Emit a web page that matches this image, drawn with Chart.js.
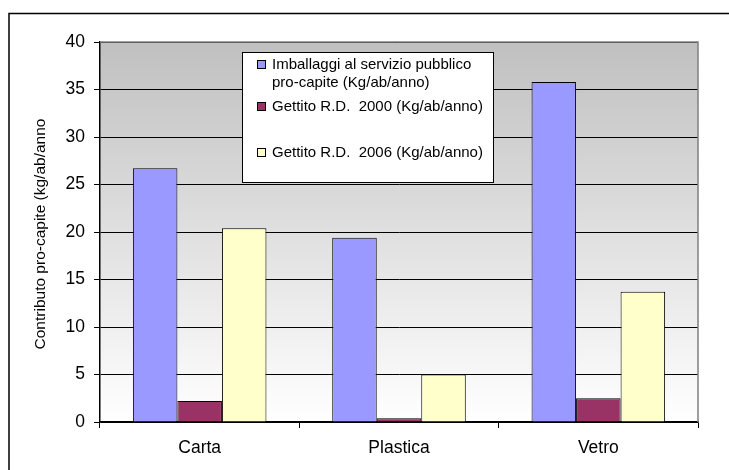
<!DOCTYPE html>
<html>
<head>
<meta charset="utf-8">
<script src="https://cdn.jsdelivr.net/npm/chart.js@4/dist/chart.umd.min.js"></script>
<style>
  html, body { margin: 0; padding: 0; background: #fff; }
  #wrap { width: 729px; height: 470px; position: relative; }
</style>
</head>
<body>
<div id="wrap"><canvas id="grafico" width="729" height="470"></canvas></div>
<script>
// Dati
const categorie = ['Carta', 'Plastica', 'Vetro'];
const imballaggi = [26.7, 19.4, 35.8];
const gettito2000 = [2.2, 0.4, 2.5];
const gettito2006 = [20.4, 5.0, 13.7];
const ticksY = [0, 5, 10, 15, 20, 25, 30, 35, 40];

const etichette = [
  ['Imballaggi al servizio pubblico', 'pro-capite (Kg/ab/anno)'],
  ['Gettito R.D.  2000 (Kg/ab/anno)'],
  ['Gettito R.D.  2006 (Kg/ab/anno)'],
];
const colori = ['#9999FF', '#993366', '#FFFFCC'];
const FONT = 'Arial, "Liberation Sans", sans-serif';

// sfondo sfumato + cornice esterna
const sfondo = {
  id: 'sfondo',
  beforeDraw(chart) {
    const { ctx, chartArea: a } = chart;
    ctx.save();
    ctx.fillStyle = '#fff';
    ctx.fillRect(0, 0, chart.width, chart.height);
    ctx.strokeStyle = '#000';
    ctx.lineWidth = 1.5;
    ctx.beginPath();
    ctx.moveTo(9, chart.height);
    ctx.lineTo(9, 13.5);
    ctx.lineTo(chart.width, 13.5);
    ctx.stroke();
    const g = ctx.createLinearGradient(0, a.top, 0, a.bottom);
    g.addColorStop(0, '#c0c0c0');
    g.addColorStop(1, '#ffffff');
    ctx.fillStyle = g;
    ctx.fillRect(a.left, a.top, a.right - a.left, a.bottom - a.top);
    ctx.restore();
  },
  afterDatasetsDraw(chart) {
    const { ctx, chartArea: a } = chart;
    ctx.save();
    ctx.strokeStyle = '#808080';
    ctx.lineWidth = 1.5;
    ctx.beginPath();
    ctx.moveTo(a.left, a.top);
    ctx.lineTo(a.right, a.top);
    ctx.lineTo(a.right, a.bottom);
    ctx.stroke();
    // titolo asse Y (tagliato come nell'originale)
    ctx.fillStyle = '#000';
    ctx.font = '15.5px ' + FONT;
    ctx.textAlign = 'center';
    ctx.textBaseline = 'middle';
    ctx.translate(41, 234);
    ctx.rotate(-Math.PI / 2);
    ctx.fillText('Contributo pro-capite (kg/ab/anno', 0, 0);
    ctx.restore();
  },
};

// legenda dentro l'area del grafico
const legenda = {
  id: 'legenda',
  afterDraw(chart) {
    const { ctx } = chart;
    ctx.save();
    ctx.fillStyle = '#fff';
    ctx.fillRect(242, 52, 251, 130);
    ctx.strokeStyle = '#000';
    ctx.lineWidth = 1;
    ctx.strokeRect(242.5, 52.5, 251, 130);
    ctx.font = '15px ' + FONT;
    ctx.textBaseline = 'middle';
    const righe = [65, 107, 153];
    chart.data.datasets.forEach((ds, i) => {
      const y = righe[i];
      ctx.fillStyle = ds.backgroundColor;
      ctx.fillRect(257.5, y - 4.5, 8, 8);
      ctx.strokeStyle = '#000';
      ctx.strokeRect(257.5, y - 4.5, 8, 8);
      ctx.fillStyle = '#000';
      ds.label.forEach((t, k) => ctx.fillText(t, 272, y + k * 18));
    });
    ctx.restore();
  },
};

new Chart(document.getElementById('grafico'), {
  type: 'bar',
  data: {
    labels: categorie,
    datasets: [imballaggi, gettito2000, gettito2006].map((d, i) => ({
      label: etichette[i],
      data: d,
      backgroundColor: colori[i],
      borderColor: '#000',
      borderWidth: 1,
      categoryPercentage: 0.67,
      barPercentage: 1,
    })),
  },
  options: {
    responsive: false,
    animation: false,
    devicePixelRatio: 1,
    layout: { padding: { top: 42, right: 31, left: 0, bottom: 0 } },
    plugins: { legend: { display: false }, tooltip: { enabled: false } },
    scales: {
      x: {
        afterFit: (s) => { s.height = 48; },
        grid: { drawOnChartArea: false, drawTicks: true, tickLength: 6, color: '#000' },
        border: { color: '#000', width: 1.5 },
        ticks: { color: '#000', font: { family: FONT, size: 17.5 }, padding: 10 },
      },
      y: {
        min: 0, max: 40,
        afterFit: (s) => { s.width = 100; },
        afterBuildTicks: (s) => { s.ticks = ticksY.map((v) => ({ value: v })); },
        grid: { color: '#000', lineWidth: 1, tickLength: 6 },
        border: { color: '#000', width: 1.5 },
        ticks: { color: '#000', font: { family: FONT, size: 17.5 }, padding: 9 },
      },
    },
  },
  plugins: [sfondo, legenda],
});
</script>
</body>
</html>
